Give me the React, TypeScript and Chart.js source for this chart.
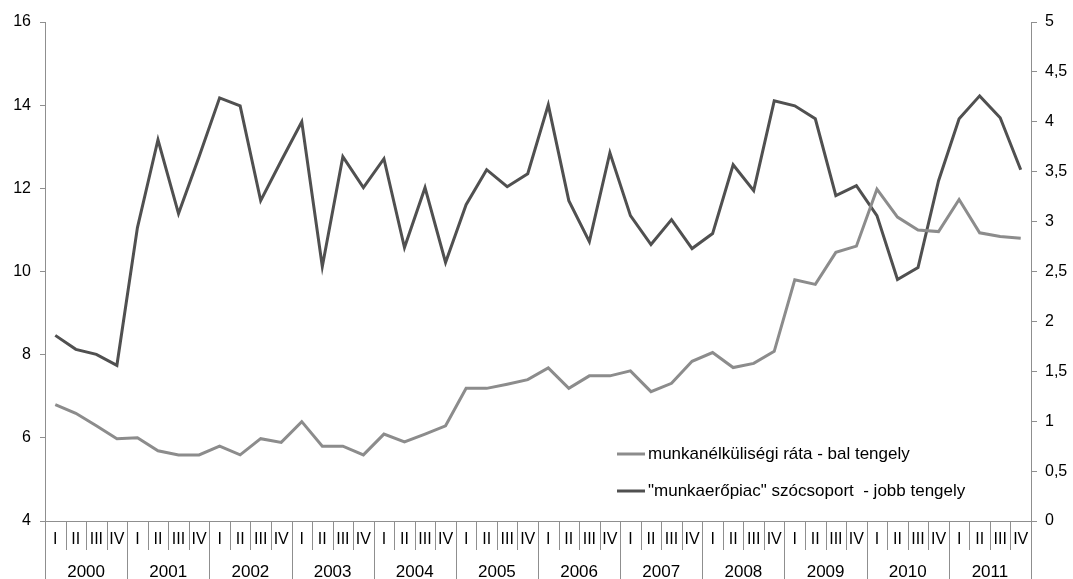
import React, { useEffect, useRef } from "react";
import { Chart, registerables } from "chart.js";

Chart.register(...registerables);

const years = ["2000", "2001", "2002", "2003", "2004", "2005", "2006", "2007", "2008", "2009", "2010", "2011"];
const quarterNames = ["I", "II", "III", "IV"];
const categories: string[] = [];
years.forEach((y) => quarterNames.forEach((q) => categories.push(y + " " + q)));

const unemploymentRate = [
  6.8, 6.59, 6.29, 5.98,
  6.0, 5.69, 5.59, 5.59,
  5.8, 5.59, 5.98, 5.89,
  6.39, 5.8, 5.8, 5.59,
  6.09, 5.9, 6.09, 6.29,
  7.19, 7.19, 7.29, 7.4,
  7.68, 7.19, 7.49, 7.49,
  7.61, 7.11, 7.31, 7.84,
  8.05, 7.69, 7.79, 8.08,
  9.8, 9.69, 10.46, 10.61,
  11.98, 11.31, 11.0, 10.96,
  11.73, 10.93, 10.84, 10.8,
];

const searchIndex = [
  1.86, 1.72, 1.67, 1.56,
  2.94, 3.82, 3.08, 3.65,
  4.24, 4.16, 3.21, 3.61,
  4.0, 2.55, 3.65, 3.34,
  3.63, 2.74, 3.34, 2.59,
  3.17, 3.52, 3.35, 3.48,
  4.17, 3.21, 2.8, 3.69,
  3.06, 2.77, 3.02, 2.73,
  2.88, 3.57, 3.31, 4.21,
  4.16, 4.03, 3.26, 3.36,
  3.06, 2.42, 2.54, 3.41,
  4.03, 4.26, 4.04, 3.52,
];

const seriesLabels = [
  "munkanélküliségi ráta - bal tengely",
  "\"munkaerőpiac\" szócsoport  - jobb tengely",
];

const LIGHT = "#8c8c8c";
const DARK = "#505050";
const AXIS = "#8f8f8f";
const FONT = "'Liberation Sans', Arial, sans-serif";

const xLabelsPlugin = {
  id: "xLabels",
  afterDraw(chart: any) {
    const { ctx } = chart;
    const xs = chart.scales.x;
    const n = categories.length;
    const p0 = xs.getPixelForValue(0);
    const p1 = xs.getPixelForValue(1);
    const cw = p1 - p0;
    const top = xs.top;
    const bottom = chart.height;
    ctx.save();
    ctx.strokeStyle = AXIS;
    ctx.lineWidth = 1;
    for (let i = 0; i <= n; i++) {
      const x = Math.round(xs.getPixelForValue(i) - cw / 2) + 0.5;
      const isYear = i % 4 === 0;
      ctx.beginPath();
      ctx.moveTo(x, top);
      ctx.lineTo(x, isYear ? bottom : top + 29);
      ctx.stroke();
    }
    ctx.fillStyle = "#000";
    ctx.textAlign = "center";
    ctx.textBaseline = "middle";
    ctx.font = "16px " + FONT;
    for (let i = 0; i < n; i++) {
      ctx.fillText(quarterNames[i % 4], xs.getPixelForValue(i), top + 19);
    }
    ctx.font = "17px " + FONT;
    years.forEach((y, k) => {
      const x = (xs.getPixelForValue(k * 4) + xs.getPixelForValue(k * 4 + 3)) / 2;
      ctx.fillText(y, x, top + 51);
    });
    ctx.restore();
  },
};

const legendPlugin = {
  id: "customLegend",
  afterDraw(chart: any) {
    const { ctx, chartArea } = chart;
    const x0 = chartArea.left + 572;
    const ys = [chartArea.bottom - 67, chartArea.bottom - 30];
    ctx.save();
    ctx.font = "17px " + FONT;
    ctx.textBaseline = "middle";
    ctx.textAlign = "left";
    chart.data.datasets.forEach((ds: any, i: number) => {
      ctx.strokeStyle = ds.borderColor;
      ctx.lineWidth = 3;
      ctx.beginPath();
      ctx.moveTo(x0, ys[i]);
      ctx.lineTo(x0 + 28, ys[i]);
      ctx.stroke();
      ctx.fillStyle = "#000";
      ctx.fillText(ds.label, x0 + 31, ys[i]);
    });
    ctx.restore();
  },
};

export default function App() {
  const ref = useRef<HTMLCanvasElement>(null);
  useEffect(() => {
    document.body.style.margin = "0";
    const canvas = ref.current!;
    const chart = new Chart(canvas, {
      type: "line",
      data: {
        labels: categories,
        datasets: [
          {
            label: seriesLabels[0],
            data: unemploymentRate,
            borderColor: LIGHT,
            backgroundColor: LIGHT,
            borderWidth: 3,
            pointRadius: 0,
            tension: 0,
            yAxisID: "y",
          },
          {
            label: seriesLabels[1],
            data: searchIndex,
            borderColor: DARK,
            backgroundColor: DARK,
            borderWidth: 3,
            pointRadius: 0,
            tension: 0,
            yAxisID: "y1",
          },
        ],
      },
      options: {
        animation: false,
        responsive: false,
        maintainAspectRatio: false,
        layout: { padding: { top: 22, left: 0, right: 0, bottom: 0 } },
        plugins: {
          legend: { display: false },
          tooltip: { enabled: false },
        },
        scales: {
          x: {
            type: "category",
            offset: true,
            grid: { display: false },
            border: { display: true, color: AXIS, width: 1 },
            ticks: { display: false },
            afterFit(scale: any) {
              scale.height = 58;
            },
          },
          y: {
            position: "left",
            min: 4,
            max: 16,
            ticks: {
              stepSize: 2,
              color: "#000",
              padding: 9,
              font: { family: FONT, size: 16 },
            },
            grid: { drawOnChartArea: false, drawTicks: true, tickLength: 5, color: AXIS },
            border: { display: true, color: AXIS, width: 1 },
            afterFit(scale: any) {
              scale.width = 45;
            },
          },
          y1: {
            position: "right",
            min: 0,
            max: 5,
            ticks: {
              stepSize: 0.5,
              color: "#000",
              padding: 8,
              font: { family: FONT, size: 16 },
              callback: (v: any) => String(v).replace(".", ","),
            },
            grid: { drawOnChartArea: false, drawTicks: true, tickLength: 6, color: AXIS },
            border: { display: true, color: AXIS, width: 1 },
            afterFit(scale: any) {
              scale.width = 42;
            },
          },
        },
      },
      plugins: [xLabelsPlugin, legendPlugin],
    });
    return () => chart.destroy();
  }, []);
  return <canvas ref={ref} width={1073} height={579} style={{ display: "block" }} />;
}
